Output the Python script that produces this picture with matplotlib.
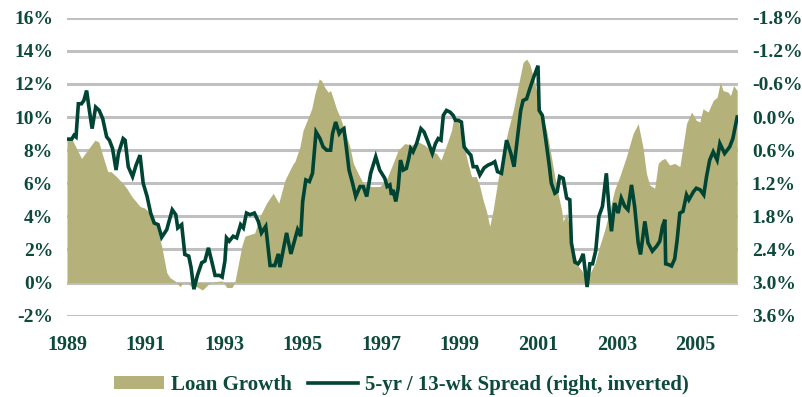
import matplotlib
matplotlib.use("Agg")
import matplotlib.pyplot as plt
from matplotlib.patches import Patch
from matplotlib.lines import Line2D
from matplotlib.ticker import FixedLocator, FuncFormatter

# Loan growth, % y/y (left axis)
loan_time = [
    1989.00, 1989.12, 1989.37, 1989.71, 1989.81, 1989.92, 1990.04, 1990.12, 1990.26, 1990.42,
    1990.52, 1990.65, 1990.86, 1990.98, 1991.11, 1991.28, 1991.41, 1991.54, 1991.62, 1991.75,
    1991.88, 1991.95, 1992.05, 1992.15, 1992.30, 1992.45, 1992.60, 1992.75, 1992.95, 1993.07,
    1993.20, 1993.27, 1993.32, 1993.45, 1993.53, 1993.78, 1993.91, 1994.08, 1994.25, 1994.39,
    1994.55, 1994.76, 1994.80, 1994.93, 1995.01, 1995.13, 1995.23, 1995.31, 1995.42, 1995.48,
    1995.56, 1995.65, 1995.71, 1995.78, 1995.86, 1995.95, 1996.07, 1996.20, 1996.29, 1996.41,
    1996.54, 1996.75, 1996.96, 1997.13, 1997.30, 1997.43, 1997.60, 1997.77, 1997.94, 1998.11,
    1998.24, 1998.41, 1998.52, 1998.66, 1998.79, 1998.85, 1998.96, 1999.04, 1999.13, 1999.21,
    1999.30, 1999.42, 1999.51, 1999.59, 1999.68, 1999.76, 1999.85, 1999.97, 2000.10, 2000.23,
    2000.36, 2000.48, 2000.61, 2000.70, 2000.78, 2000.85, 2000.95, 2001.08, 2001.21, 2001.33,
    2001.46, 2001.59, 2001.63, 2001.72, 2001.80, 2001.88, 2002.01, 2002.10, 2002.18, 2002.31,
    2002.44, 2002.56, 2002.69, 2002.82, 2002.94, 2003.07, 2003.24, 2003.41, 2003.54, 2003.66,
    2003.75, 2003.83, 2003.96, 2004.05, 2004.13, 2004.22, 2004.34, 2004.47, 2004.60, 2004.68,
    2004.77, 2004.90, 2005.02, 2005.11, 2005.19, 2005.32, 2005.45, 2005.55, 2005.63, 2005.70,
    2005.83, 2005.89, 2005.97, 2006.06,
]
loan_growth = [
    8.6, 8.7, 7.5, 8.6, 8.5, 7.6, 6.7, 6.7, 6.4, 6.0,
    5.7, 5.2, 4.6, 4.5, 4.2, 3.4, 2.2, 0.6, 0.3, 0.1,
    -0.25, 0.0, 0.05, -0.2, -0.25, -0.45, -0.1, 0.05, 0.1, -0.3,
    -0.3, 0.0, 0.6, 2.2, 2.8, 3.0, 4.0, 4.8, 5.4, 4.8,
    6.2, 7.2, 7.3, 8.2, 9.2, 9.9, 10.5, 11.4, 12.3, 12.2,
    11.8, 11.5, 11.6, 11.1, 10.5, 10.0, 9.2, 8.2, 7.2, 6.6,
    6.0, 5.8, 5.8, 6.2, 7.2, 8.0, 8.4, 8.3, 8.5, 8.3,
    8.0, 7.8, 7.4, 8.3, 9.2, 10.0, 9.8, 8.8, 8.0, 7.2,
    6.4, 6.4, 5.8, 5.0, 4.3, 3.4, 4.4, 6.2, 7.8, 9.2,
    10.4, 11.8, 13.3, 13.5, 13.2, 12.6, 11.6, 10.2, 9.2, 7.6,
    5.8, 4.4, 3.7, 4.2, 3.2, 2.0, 1.0, 0.75, 0.35, 0.55,
    1.15, 2.2, 3.2, 4.4, 5.6, 6.4, 7.6, 9.0, 9.6, 8.2,
    6.6, 5.9, 5.7, 7.2, 7.4, 7.5, 7.1, 7.2, 7.0, 8.2,
    9.6, 10.3, 9.8, 9.7, 10.5, 10.3, 11.0, 11.2, 12.1, 11.6,
    11.5, 11.3, 11.9, 11.6,
]

# 5-yr / 13-wk Treasury spread, % (right axis, inverted)
spread_time = [
    1989.00, 1989.12, 1989.18, 1989.23, 1989.29, 1989.37, 1989.43, 1989.50, 1989.57, 1989.64,
    1989.73, 1989.82, 1989.91, 1990.01, 1990.08, 1990.16, 1990.25, 1990.31, 1990.43, 1990.48,
    1990.56, 1990.67, 1990.76, 1990.86, 1990.94, 1991.04, 1991.13, 1991.22, 1991.32, 1991.41,
    1991.54, 1991.68, 1991.77, 1991.82, 1991.92, 1992.00, 1992.10, 1992.16, 1992.23, 1992.32,
    1992.43, 1992.51, 1992.60, 1992.68, 1992.77, 1992.88, 1992.95, 1993.02, 1993.06, 1993.13,
    1993.23, 1993.32, 1993.42, 1993.49, 1993.57, 1993.66, 1993.77, 1993.87, 1993.95, 1994.06,
    1994.17, 1994.29, 1994.38, 1994.42, 1994.59, 1994.70, 1994.87, 1994.95, 1995.00, 1995.08,
    1995.17, 1995.25, 1995.34, 1995.44, 1995.52, 1995.61, 1995.71, 1995.76, 1995.84, 1995.93,
    1995.99, 1996.05, 1996.12, 1996.18, 1996.27, 1996.35, 1996.46, 1996.54, 1996.63, 1996.73,
    1996.86, 1996.96, 1997.09, 1997.15, 1997.22, 1997.26, 1997.30, 1997.37, 1997.43, 1997.49,
    1997.56, 1997.64, 1997.70, 1997.75, 1997.81, 1997.90, 1998.01, 1998.09, 1998.19, 1998.30,
    1998.38, 1998.45, 1998.52, 1998.58, 1998.66, 1998.75, 1998.83, 1998.89, 1998.96, 1999.04,
    1999.11, 1999.20, 1999.28, 1999.34, 1999.43, 1999.51, 1999.62, 1999.72, 1999.82, 1999.89,
    1999.96, 2000.06, 2000.19, 2000.30, 2000.38, 2000.47, 2000.55, 2000.61, 2000.70, 2000.78,
    2000.88, 2000.99, 2001.02, 2001.10, 2001.19, 2001.27, 2001.33, 2001.42, 2001.48, 2001.54,
    2001.63, 2001.72, 2001.80, 2001.84, 2001.93, 2002.01, 2002.07, 2002.14, 2002.21, 2002.24,
    2002.31, 2002.38, 2002.46, 2002.54, 2002.63, 2002.73, 2002.80, 2002.86, 2002.94, 2003.03,
    2003.11, 2003.20, 2003.28, 2003.37, 2003.45, 2003.54, 2003.60, 2003.66, 2003.71, 2003.79,
    2003.90, 2004.01, 2004.09, 2004.16, 2004.22, 2004.24, 2004.30, 2004.39, 2004.47, 2004.53,
    2004.60, 2004.68, 2004.77, 2004.83, 2004.95, 2005.02, 2005.12, 2005.21, 2005.28, 2005.36,
    2005.45, 2005.55, 2005.62, 2005.74, 2005.87, 2005.95, 2006.06,
]
spread = [
    0.40, 0.40, 0.33, 0.36, -0.24, -0.24, -0.30, -0.48, -0.12, 0.21,
    -0.18, -0.12, 0.03, 0.36, 0.42, 0.57, 0.96, 0.66, 0.39, 0.42,
    0.90, 1.08, 0.87, 0.69, 1.20, 1.44, 1.74, 1.92, 1.95, 2.18,
    2.04, 1.68, 1.77, 2.01, 1.95, 2.49, 2.52, 2.73, 3.12, 2.87,
    2.64, 2.61, 2.37, 2.60, 2.87, 2.87, 2.90, 2.61, 2.19, 2.25,
    2.16, 2.19, 1.95, 2.01, 1.74, 1.77, 1.74, 1.89, 2.10, 1.98,
    2.69, 2.69, 2.48, 2.72, 2.10, 2.48, 2.04, 2.16, 1.53, 1.14,
    1.17, 1.02, 0.27, 0.39, 0.54, 0.60, 0.60, 0.30, 0.09, 0.30,
    0.24, 0.21, 0.60, 0.96, 1.20, 1.44, 1.26, 1.26, 1.44, 1.02,
    0.72, 0.96, 1.11, 1.26, 1.23, 1.41, 1.32, 1.53, 1.29, 0.78,
    0.96, 0.93, 0.75, 0.57, 0.63, 0.48, 0.21, 0.27, 0.45, 0.66,
    0.48, 0.39, 0.42, -0.03, -0.12, -0.09, -0.03, 0.06, 0.06, 0.09,
    0.54, 0.63, 0.69, 0.90, 0.90, 1.05, 0.92, 0.87, 0.84, 0.81,
    0.99, 1.02, 0.42, 0.66, 0.90, 0.36, -0.12, -0.30, -0.33, -0.51,
    -0.72, -0.93, -0.12, -0.03, 0.42, 0.84, 1.20, 1.38, 1.35, 1.08,
    1.11, 1.47, 1.50, 2.28, 2.63, 2.66, 2.60, 2.48, 2.90, 3.08,
    2.66, 2.66, 2.42, 1.80, 1.62, 1.02, 1.68, 2.07, 1.56, 1.74,
    1.47, 1.62, 1.68, 1.23, 1.62, 2.28, 2.49, 2.16, 1.89, 2.28,
    2.43, 2.34, 2.25, 1.98, 1.86, 2.66, 2.67, 2.70, 2.57, 2.24,
    1.74, 1.71, 1.41, 1.50, 1.35, 1.29, 1.32, 1.41, 1.08, 0.78,
    0.63, 0.78, 0.48, 0.66, 0.54, 0.39, 0.00,
]

year_ticks = [1989, 1991, 1993, 1995, 1997, 1999, 2001, 2003, 2005]
left_ticks = [-2, 0, 2, 4, 6, 8, 10, 12, 14, 16]
right_ticks = [-1.8, -1.2, -0.6, 0.0, 0.6, 1.2, 1.8, 2.4, 3.0, 3.6]

TEXT = "#0d4a3b"
AREA = "#b4b27a"
LINE = "#004434"
GRID = "#c0c0c0"
FONT = "Liberation Serif"

plt.rcParams["font.family"] = FONT
plt.rcParams["font.weight"] = "bold"

fig = plt.figure(figsize=(8.03, 3.97), dpi=100)
ax = fig.add_axes([0.0834, 0.2048, 0.8356, 0.7506])
ax.set_xlim(1989.0, 2006.08)
ax.set_ylim(-2, 16)
ax.set_axisbelow(True)
ax.yaxis.set_major_locator(FixedLocator(left_ticks))
ax.yaxis.set_major_formatter(FuncFormatter(lambda v, p: f"{v:.0f}%"))
ax.xaxis.set_major_locator(FixedLocator(year_ticks))
ax.xaxis.set_major_formatter(FuncFormatter(lambda v, p: f"{v:.0f}"))
ax.grid(axis="y", color=GRID, linewidth=2.2)
ax.grid(axis="x", visible=False)
for s in ax.spines.values():
    s.set_visible(False)
ax.tick_params(axis="both", length=0, labelsize=14, labelcolor=TEXT)
ax.tick_params(axis="y", pad=10)
ax.tick_params(axis="x", pad=14, labelsize=14.5)

ax.fill_between(loan_time, loan_growth, 0, color=AREA, linewidth=0, zorder=2)

ax2 = ax.twinx()
ax2.set_ylim(3.6, -1.8)
ax2.yaxis.set_major_locator(FixedLocator(right_ticks))
ax2.yaxis.set_major_formatter(FuncFormatter(lambda v, p: f"{v:.1f}%"))
for s in ax2.spines.values():
    s.set_visible(False)
ax2.tick_params(axis="y", length=0, labelsize=14, labelcolor=TEXT, pad=10)
ax2.plot(spread_time, spread, color=LINE, linewidth=2.6, solid_joinstyle="miter")

handles = [
    Patch(facecolor=AREA, edgecolor="none"),
    Line2D([0], [0], color=LINE, linewidth=2.6),
]
labels = ["Loan Growth", "5-yr / 13-wk Spread (right, inverted)"]
leg = fig.legend(handles, labels, loc="center", bbox_to_anchor=(0.5, 0.03),
                 ncol=2, frameon=False, fontsize=15, handlelength=2.4,
                 handleheight=0.6, handletextpad=0.35, columnspacing=0.75)
for t in leg.get_texts():
    t.set_color(TEXT)

fig.savefig("out.png", dpi=100)
